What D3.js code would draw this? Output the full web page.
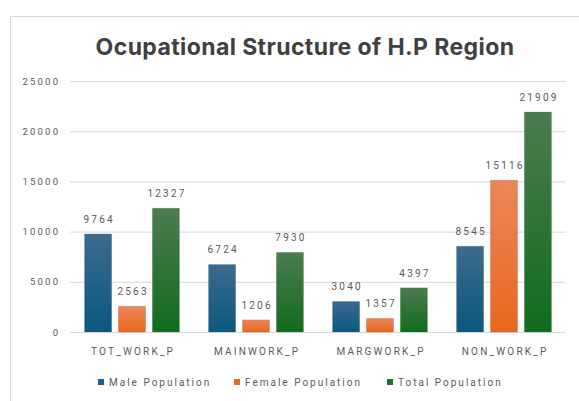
<!DOCTYPE html>
<html>
<head>
<meta charset="utf-8">
<script src="https://cdn.jsdelivr.net/npm/d3@7"></script>
<style>
  html, body { margin: 0; padding: 0; background: #ffffff; }
  svg { display: block; }
</style>
</head>
<body>
<svg id="chart" width="579" height="401"></svg>
<script>
// Occupational categories and population counts per series
const categories = ["TOT_WORK_P", "MAINWORK_P", "MARGWORK_P", "NON_WORK_P"];
const seriesNames = ["Male Population", "Female Population", "Total Population"];
const malePopulation = [9764, 6724, 3040, 8545];
const femalePopulation = [2563, 1206, 1357, 15116];
const totalPopulation = [12327, 7930, 4397, 21909];
const yTicks = [0, 5000, 10000, 15000, 20000, 25000];
const yTickLabels = ["0", "5000", "10000", "15000", "20000", "25000"];

const seriesValues = [malePopulation, femalePopulation, totalPopulation];
const palette = [
  { top: "#3b6b8e", bottom: "#0b587e", legend: "#1d5f86" },
  { top: "#ec865a", bottom: "#ea661c", legend: "#ea6b28" },
  { top: "#4b7c50", bottom: "#116c1d", legend: "#227029" }
];

const svg = d3.select("#chart");
const margin = { left: 70, right: 13, top: 81, bottom: 69 };
const W = 579, H = 401;
const FONT = "Roboto, 'Liberation Sans', sans-serif";
const LS = 2.2; // letter spacing of the small labels

// Chart frame
svg.append("path")
  .attr("d", "M10.5,401 L10.5,16.5 L579,16.5")
  .attr("fill", "none")
  .attr("stroke", "#d9d9d9")
  .attr("stroke-width", 1.2);

// Vertical gradients for each series
const defs = svg.append("defs");
palette.forEach((c, i) => {
  const g = defs.append("linearGradient")
    .attr("id", "grad" + i)
    .attr("x1", 0).attr("y1", 0).attr("x2", 0).attr("y2", 1);
  g.append("stop").attr("offset", "0%").attr("stop-color", c.top);
  g.append("stop").attr("offset", "100%").attr("stop-color", c.bottom);
});

const x0 = d3.scaleBand()
  .domain(categories)
  .range([margin.left, W - margin.right])
  .paddingInner(0.234)
  .paddingOuter(0.117);

const x1 = d3.scaleBand()
  .domain(d3.range(seriesNames.length))
  .range([0, x0.bandwidth()])
  .paddingInner(0.2);

const y = d3.scaleLinear()
  .domain([0, 25000])
  .range([H - margin.bottom, margin.top]);

// Title
svg.append("text")
  .attr("x", 305)
  .attr("y", 55)
  .attr("text-anchor", "middle")
  .attr("font-family", "Inter, 'DejaVu Sans', sans-serif")
  .attr("font-weight", 700)
  .attr("font-size", 23)
  .attr("letter-spacing", 0.4)
  .attr("fill", "#404040")
  .text("Ocupational Structure of H.P Region");

// Y axis with gridlines
const yAxis = d3.axisLeft(y)
  .tickValues(yTicks)
  .tickFormat((d, i) => yTickLabels[i])
  .tickSize(-(W - margin.left - margin.right))
  .tickPadding(12);

const yg = svg.append("g")
  .attr("transform", `translate(${margin.left},0)`)
  .call(yAxis);
yg.select(".domain").remove();
yg.selectAll(".tick line")
  .attr("stroke", "#d9d9d9")
  .attr("stroke-width", 1);
yg.selectAll(".tick text")
  .attr("font-family", FONT)
  .attr("font-size", 9.5)
  .attr("letter-spacing", LS)
  .attr("dx", LS)
  .attr("fill", "#595959");

// X axis labels
const xAxis = d3.axisBottom(x0).tickSize(0).tickPadding(16);
const xg = svg.append("g")
  .attr("transform", `translate(0,${y(0)})`)
  .call(xAxis);
xg.select(".domain").remove();
xg.selectAll(".tick text")
  .attr("font-family", FONT)
  .attr("font-size", 10)
  .attr("letter-spacing", LS)
  .attr("dx", LS / 2)
  .attr("fill", "#595959");

// Bars
const groups = svg.append("g")
  .selectAll("g")
  .data(categories)
  .join("g")
  .attr("transform", d => `translate(${x0(d)},0)`);

groups.selectAll("rect")
  .data((d, ci) => seriesValues.map((vals, si) => ({ si, v: vals[ci] })))
  .join("rect")
  .attr("x", d => x1(d.si))
  .attr("y", d => y(d.v))
  .attr("width", x1.bandwidth())
  .attr("height", d => y(0) - y(d.v))
  .attr("fill", d => `url(#grad${d.si})`)
  .attr("stroke", "rgba(90,90,90,0.25)")
  .attr("stroke-width", 0.8);

// Value labels
groups.selectAll("text.value")
  .data((d, ci) => seriesValues.map((vals, si) => ({ si, v: vals[ci] })))
  .join("text")
  .attr("class", "value")
  .attr("x", d => x1(d.si) + x1.bandwidth() / 2)
  .attr("y", d => y(d.v) - 11)
  .attr("dx", LS / 2)
  .attr("text-anchor", "middle")
  .attr("font-family", FONT)
  .attr("font-size", 10)
  .attr("letter-spacing", LS)
  .attr("fill", "#595959")
  .text(d => d.v);

// Legend
const legendX = [98, 234, 387];
const legend = svg.append("g")
  .selectAll("g")
  .data(seriesNames)
  .join("g")
  .attr("transform", (d, i) => `translate(${legendX[i]},382)`);
legend.append("rect")
  .attr("x", 0).attr("y", -3)
  .attr("width", 6).attr("height", 6)
  .attr("fill", (d, i) => palette[i].legend);
legend.append("text")
  .attr("x", 11)
  .attr("y", 3.5)
  .attr("font-family", FONT)
  .attr("font-size", 10)
  .attr("letter-spacing", 2)
  .attr("fill", "#595959")
  .text(d => d);
</script>
</body>
</html>
